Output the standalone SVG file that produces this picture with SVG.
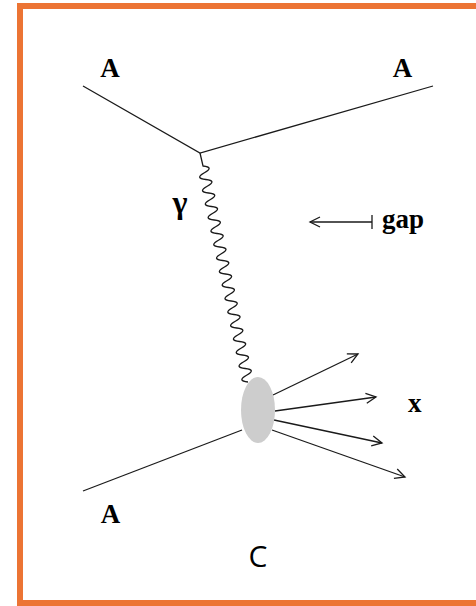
<svg xmlns="http://www.w3.org/2000/svg" width="476" height="606" viewBox="0 0 476 606">
<style>
.ln{stroke:#1a1a1a;stroke-width:1.3;fill:none}
.lbl{font-family:"Liberation Serif","Times New Roman",serif;font-weight:bold;font-size:27px;fill:#000}
.gam{font-family:"Liberation Serif","Times New Roman",serif;font-weight:bold;font-size:32px;fill:#000}
.c{font-family:"Open Sans","Liberation Sans",sans-serif;font-size:30px;fill:#000}
</style>
<defs>
<marker id="ah" markerUnits="userSpaceOnUse" markerWidth="14" markerHeight="14" refX="11" refY="6" orient="auto">
<path d="M1,1 L11,6 L1,11" fill="none" stroke="#1a1a1a" stroke-width="1.3"/>
</marker>
</defs>
<rect x="0" y="0" width="476" height="606" fill="#fff"/>
<rect id="frame" x="20" y="6" width="470" height="597" fill="#fff" stroke="#ec7434" stroke-width="6"/>
<g id="connectors">
<path class="ln" d="M83,86 L200,153 L433,86"/>
<path class="ln" stroke-width="1.5" d="M200,153 L203,166 q 11.473,1.131 1.406,6.75 t 1.406,6.75 t 1.406,6.75 t 1.406,6.75 t 1.406,6.75 t 1.406,6.75 t 1.406,6.75 t 1.406,6.75 t 1.406,6.75 t 1.406,6.75 t 1.406,6.75 t 1.406,6.75 t 1.406,6.75 t 1.406,6.75 t 1.406,6.75 t 1.406,6.75 t 1.406,6.75 t 1.406,6.75 t 1.406,6.75 t 1.406,6.75 t 1.406,6.75 t 1.406,6.75 t 1.406,6.75 t 1.406,6.75 t 1.406,6.75 t 1.406,6.75 t 1.406,6.75 t 1.406,6.75 t 1.406,6.75 t 1.406,6.75 t 1.406,6.75 t 1.406,6.75"/>
<path class="ln" d="M83,491 L242,430"/>
<path class="ln" d="M273,395 L358,354" marker-end="url(#ah)"/>
<path class="ln" d="M275,411 L376,397" marker-end="url(#ah)"/>
<path class="ln" d="M274,420 L382,443" marker-end="url(#ah)"/>
<path class="ln" d="M272,430 L405,477" marker-end="url(#ah)"/>
<path class="ln" d="M372,222 L310,222" marker-end="url(#ah)"/>
<path class="ln" d="M372,215 L372,229"/>
</g>
<g id="blob"><ellipse cx="258" cy="410" rx="17" ry="33" fill="#cdcdcd"/></g>
<g id="A1"><text class="lbl" x="110" y="77" text-anchor="middle">A</text></g>
<g id="A2"><text class="lbl" x="402.5" y="77" text-anchor="middle">A</text></g>
<g id="A3"><text class="lbl" x="110.5" y="523" text-anchor="middle">A</text></g>
<g id="gamma"><text class="gam" x="180" y="213" text-anchor="middle">γ</text></g>
<g id="gap"><text class="lbl" x="382" y="228">gap</text></g>
<g id="X"><text class="lbl" x="408" y="412">x</text></g>
<g id="C"><text class="c" x="258" y="567" text-anchor="middle">C</text></g>
</svg>
